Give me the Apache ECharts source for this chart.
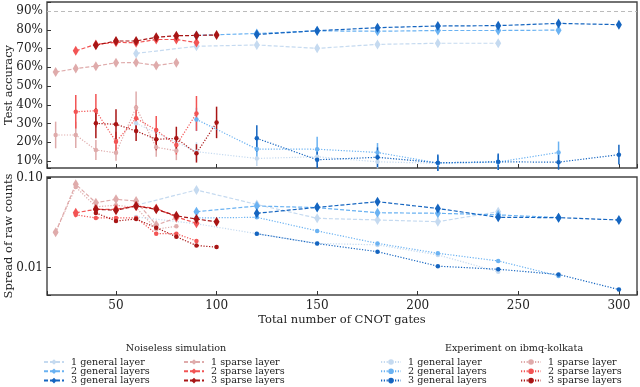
<!DOCTYPE html>
<html>
<head>
<meta charset="utf-8">
<script src="https://cdn.jsdelivr.net/npm/echarts@6/dist/echarts.min.js"></script>
<style>
  html, body { margin: 0; padding: 0; background: #fff; }
  #chart { width: 640px; height: 387px; }
</style>
</head>
<body>
<div id="chart"></div>
<script>
// number of CNOT gates per point
const gen1X = [60, 90, 120, 150, 180, 210, 240]
const gen2X = [90, 120, 150, 180, 210, 240, 270]
const gen3X = [120, 150, 180, 210, 240, 270, 300]
const sp1X = [20, 30, 40, 50, 60, 70, 80]
const sp2X = [30, 40, 50, 60, 70, 80, 90]
const sp3X = [40, 50, 60, 70, 80, 90, 100]

// test accuracy (%) - noiseless simulation
const accSimGen1 = [67.4, 71.2, 71.9, 70.1, 72.2, 72.8, 72.8]
const accSimGen2 = [77.0, 78.0, 79.4, 79.2, 79.6, 79.6, 79.8]
const accSimGen3 = [77.5, 79.5, 81.1, 82.0, 82.2, 83.4, 82.7]
const accSimSp1 = [57.5, 59.3, 60.6, 62.4, 62.5, 61.0, 62.4]
const accSimSp2 = [68.8, 72.2, 73.3, 73.1, 74.8, 74.8, 73.2]
const accSimSp3 = [71.8, 74.0, 74.0, 76.0, 76.8, 77.0, 77.2]

// test accuracy (%) - experiment, with error bar half-widths
const accExpGen1 = [30.1, 15.0, 11.4, 12.3, 9.6, 8.8, 9.4]
const accExpGen2 = [32.2, 16.4, 16.3, 14.6, 8.9, 9.5, 14.6]
const accExpGen3 = [22.1, 10.7, 12.0, 9.1, 9.6, 9.4, 13.4]
const accExpSp1 = [23.9, 23.9, 15.9, 14.4, 38.6, 17.3, 15.5]
const accExpSp2 = [36.3, 36.8, 20.3, 32.8, 26.5, 18.5, 35.4]
const accExpSp3 = [30.1, 29.6, 26.0, 21.6, 22.1, 14.1, 30.6]
const errExpGen1 = [6.0, 5.0, 4.0, 4.0, 3.5, 3.5, 3.5]
const errExpGen2 = [6.2, 5.0, 6.7, 5.0, 4.0, 4.0, 5.8]
const errExpGen3 = [7.0, 4.4, 5.3, 4.4, 4.4, 4.0, 5.3]
const errExpSp1 = [7.1, 7.0, 5.3, 4.3, 8.5, 5.0, 5.0]
const errExpSp2 = [8.9, 8.9, 5.3, 7.0, 7.5, 5.0, 9.3]
const errExpSp3 = [8.0, 8.0, 5.3, 5.8, 6.2, 4.9, 8.4]

// spread of raw counts - noiseless simulation
const sprSimGen1 = [0.050, 0.074, 0.051, 0.0357, 0.0342, 0.0327, 0.0423]
const sprSimGen2 = [0.0423, 0.049, 0.047, 0.0412, 0.0406, 0.039, 0.0363]
const sprSimGen3 = [0.0406, 0.0473, 0.0547, 0.046, 0.0366, 0.0363, 0.0342]
const sprSimSp1 = [0.0249, 0.0857, 0.0533, 0.0582, 0.0557, 0.030, 0.036]
const sprSimSp2 = [0.0412, 0.045, 0.045, 0.049, 0.046, 0.037, 0.0314]
const sprSimSp3 = [0.045, 0.044, 0.049, 0.045, 0.038, 0.035, 0.0327]

// spread of raw counts - experiment
const sprExpGen1 = [0.037, 0.031, 0.024, 0.0187, 0.018, 0.0139, 0.009]
const sprExpGen2 = [0.036, 0.0366, 0.0258, 0.0187, 0.0145, 0.0119, 0.0081]
const sprExpGen3 = [0.024, 0.0186, 0.0151, 0.0104, 0.0096, 0.0084, 0.0057]
const sprExpSp1 = [0.0249, 0.080, 0.048, 0.050, 0.047, 0.027, 0.029]
const sprExpSp2 = [0.039, 0.036, 0.036, 0.036, 0.024, 0.024, 0.0199]
const sprExpSp3 = [0.041, 0.0333, 0.035, 0.028, 0.0222, 0.0177, 0.017]

const genNames = ['1 general layer', '2 general layers', '3 general layers']
const spNames = ['1 sparse layer', '2 sparse layers', '3 sparse layers']

const colors = {
  gen1: '#c5daf0', gen2: '#6ab2f2', gen3: '#1565c0',
  sp1: '#dfabab', sp2: '#f25454', sp3: '#a81515'
}
const FONT = 'DejaVu Serif'

function lineSeries(name, xs, ys, color, kind, grid) {
  const sim = kind === 'sim'
  return {
    type: 'line',
    name: name,
    xAxisIndex: grid,
    yAxisIndex: grid,
    data: xs.map((x, i) => [x, ys[i]]),
    symbol: sim ? 'diamond' : 'circle',
    symbolSize: sim ? [6, 10] : 4.5,
    showAllSymbol: true,
    lineStyle: { color: color, width: 1.2, type: sim ? [4, 2] : [1.2, 1.6] },
    itemStyle: { color: color },
    emphasis: { disabled: true },
    animation: false
  }
}

function errSeries(name, xs, ys, es, color, grid) {
  return {
    type: 'custom',
    name: name,
    xAxisIndex: grid,
    yAxisIndex: grid,
    data: xs.map((x, i) => [x, ys[i] - es[i], ys[i] + es[i]]),
    encode: { x: 0, y: [1, 2] },
    renderItem(params, api) {
      const a = api.coord([api.value(0), api.value(1)])
      const b = api.coord([api.value(0), api.value(2)])
      return {
        type: 'line',
        shape: { x1: a[0], y1: a[1], x2: b[0], y2: b[1] },
        style: { stroke: color, lineWidth: 1.5 }
      }
    },
    silent: true,
    animation: false
  }
}

const lines = []
const errs = []
const groups = [
  ['gen1', genNames[0], gen1X, accSimGen1, accExpGen1, errExpGen1, sprSimGen1, sprExpGen1],
  ['gen2', genNames[1], gen2X, accSimGen2, accExpGen2, errExpGen2, sprSimGen2, sprExpGen2],
  ['gen3', genNames[2], gen3X, accSimGen3, accExpGen3, errExpGen3, sprSimGen3, sprExpGen3],
  ['sp1', spNames[0], sp1X, accSimSp1, accExpSp1, errExpSp1, sprSimSp1, sprExpSp1],
  ['sp2', spNames[1], sp2X, accSimSp2, accExpSp2, errExpSp2, sprSimSp2, sprExpSp2],
  ['sp3', spNames[2], sp3X, accSimSp3, accExpSp3, errExpSp3, sprSimSp3, sprExpSp3]
]
groups.forEach(([key, label, xs, accSim, accExp, errExp, sprSim, sprExp]) => {
  const c = colors[key]
  lines.push(lineSeries('sim|' + label, xs, accSim, c, 'sim', 0))
  lines.push(lineSeries('exp|' + label, xs, accExp, c, 'exp', 0))
  lines.push(lineSeries('sim|' + label, xs, sprSim, c, 'sim', 1))
  lines.push(lineSeries('exp|' + label, xs, sprExp, c, 'exp', 1))
  errs.push(errSeries('exp|' + label, xs, accExp, errExp, c, 0))
})

// 90% reference line
lines[0].markLine = {
  silent: true,
  symbol: 'none',
  label: { show: false },
  lineStyle: { color: '#bbbbbb', type: [4, 3], width: 1 },
  data: [{ yAxis: 90 }]
}

const xMin = 15.7
const xMax = 309

function xAxisCfg(grid, showLabels) {
  return {
    type: 'value',
    gridIndex: grid,
    min: xMin,
    max: xMax,
    splitNumber: 5,
    axisLine: { show: false },
    axisTick: { show: true, inside: true, length: 4, lineStyle: { color: '#333' } },
    splitLine: { show: false },
    axisLabel: {
      show: showLabels,
      margin: 5,
      fontFamily: FONT,
      fontSize: 12,
      color: '#222',
      formatter: v => (Math.abs(v % 50) < 1e-6 ? String(Math.round(v)) : '')
    },
    name: showLabels ? 'Total number of CNOT gates' : '',
    nameLocation: 'middle',
    nameGap: 19,
    nameMoveOverlap: false,
    nameTextStyle: { fontFamily: FONT, fontSize: 11.5, color: '#222' }
  }
}

// one legend component per entry, so rows sit exactly where they should
const rowTops = [357, 366.3, 375.6]
function legendItem(name, left, row) {
  return {
    data: [name],
    left: left,
    top: rowTops[row],
    itemWidth: 20,
    itemHeight: 7,
    padding: 0,
    selectedMode: false,
    formatter: n => n.split('|')[1],
    textStyle: { fontFamily: FONT, fontSize: 9.6, color: '#222', padding: [0, 0, 0, 2] }
  }
}
const legends = []
const legendCols = [['sim', genNames, 43], ['sim', spNames, 183], ['exp', genNames, 380], ['exp', spNames, 520]]
legendCols.forEach(([prefix, names, left]) => {
  names.forEach((n, i) => legends.push(legendItem(prefix + '|' + n, left, i)))
})

const option = {
  backgroundColor: '#fff',
  animation: false,
  grid: [
    { left: 47, top: 2, width: 590, height: 166, show: true, borderColor: '#444', borderWidth: 1.4, backgroundColor: 'transparent', outerBoundsMode: 'none' },
    { left: 47, top: 177, width: 590, height: 118, show: true, borderColor: '#444', borderWidth: 1.4, backgroundColor: 'transparent', outerBoundsMode: 'none' }
  ],
  xAxis: [xAxisCfg(0, false), xAxisCfg(1, true)],
  yAxis: [
    {
      type: 'value',
      gridIndex: 0,
      min: 6.3,
      max: 94.8,
      splitNumber: 9,
      axisLine: { show: false },
      axisTick: { show: true, inside: true, length: 4, lineStyle: { color: '#333' } },
      splitLine: { show: false },
      axisLabel: {
        margin: 4,
        fontFamily: FONT,
        fontSize: 12,
        color: '#222',
        formatter: v => (Math.abs(v - Math.round(v / 10) * 10) < 1e-6 ? Math.round(v) + '%' : '')
      },
      name: 'Test accuracy',
      nameLocation: 'middle',
      nameGap: 32,
      nameMoveOverlap: false,
      nameTextStyle: { fontFamily: FONT, fontSize: 11.5, color: '#222' }
    },
    {
      type: 'log',
      gridIndex: 1,
      min: 0.00495,
      max: 0.1034,
      axisLine: { show: false },
      axisTick: { show: true, inside: true, length: 4, lineStyle: { color: '#333' } },
      splitLine: { show: false },
      axisLabel: {
        margin: 4,
        fontFamily: FONT,
        fontSize: 12,
        color: '#222',
        formatter: v => {
          if (Math.abs(v - 0.1) < 1e-9) return '0.10'
          if (Math.abs(v - 0.01) < 1e-10) return '0.01'
          return ''
        }
      },
      name: 'Spread of raw counts',
      nameLocation: 'middle',
      nameGap: 32,
      nameMoveOverlap: false,
      nameTextStyle: { fontFamily: FONT, fontSize: 11.5, color: '#222' }
    }
  ],
  legend: legends,
  graphic: [
    { type: 'text', x: 176, y: 348, style: { text: 'Noiseless simulation', align: 'center', verticalAlign: 'middle', font: '9.6px "DejaVu Serif"', fill: '#222' } },
    { type: 'text', x: 514, y: 348, style: { text: 'Experiment on ibmq-kolkata', align: 'center', verticalAlign: 'middle', font: '9.6px "DejaVu Serif"', fill: '#222' } }
  ],
  series: lines.concat(errs)
}

const chart = echarts.init(document.getElementById('chart'))
chart.setOption(option)
</script>
</body>
</html>
